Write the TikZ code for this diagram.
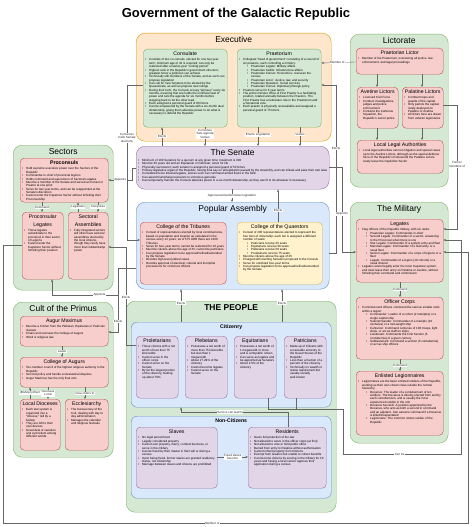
\documentclass[tikz,border=0pt]{standalone}
\usepackage{fontspec}
\setmainfont{Liberation Sans}
\usetikzlibrary{arrows.meta,calc}
\definecolor{grF}{HTML}{D5E8D4}\definecolor{grD}{HTML}{82B366}
\definecolor{orF}{HTML}{FFE6CC}\definecolor{orD}{HTML}{D79B00}
\definecolor{puF}{HTML}{E1D5E7}\definecolor{puD}{HTML}{9673A6}
\definecolor{blF}{HTML}{DAE8FC}\definecolor{blD}{HTML}{6C8EBF}
\definecolor{rdF}{HTML}{F8CECC}\definecolor{rdD}{HTML}{B85450}
\definecolor{ylF}{HTML}{FFF2CC}\definecolor{ylD}{HTML}{D6B656}
% text helpers for the boxes
\newcommand\bodysz{\fontsize{3}{3.35}\selectfont}
\newcommand\itm[1]{\par\hangindent=4pt\hangafter=1\noindent\hbox to 4pt{\textbullet\hfil}#1}
\newcommand\subitm[1]{\par\hangindent=12pt\hangafter=1\noindent\hspace*{8pt}\hbox to 4pt{\textbullet\hfil}#1}
\newcommand\ttl[1]{\hbox to\hsize{\hss\fontsize{5.2}{6}\selectfont\strut #1\hss}\vspace{0.6pt}}
\newcommand\ttlbig[1]{\hbox to\hsize{\hss\fontsize{8.5}{10}\selectfont\strut #1\hss}}
\newcommand\pnl[3]{\parbox[t][\dimexpr#2pt-4pt\relax][t]{\dimexpr#1pt-4pt\relax}{\raggedright\bodysz #3}}

\begin{document}
\begin{tikzpicture}[x=1pt, y=-1pt, >={Stealth[length=2.6pt,width=2.2pt]},
  bx/.style={draw, line width=0.4pt, rounded corners=4pt, inner sep=2pt, anchor=north west},
  grp/.style={bx, rounded corners=9pt},
  fgreen/.style={fill=grF, draw=grD},
  forange/.style={fill=orF, draw=orD},
  fpurple/.style={fill=puF, draw=puD},
  fblue/.style={fill=blF, draw=blD},
  fred/.style={fill=rdF, draw=rdD},
  fyellow/.style={fill=ylF, draw=ylD},
  arr/.style={->, draw=black!60, line width=0.35pt},
  ln/.style={draw=black!60, line width=0.35pt},
  lbl/.style={font=\fontsize{3}{3.5}\selectfont, fill=white, inner sep=0.5pt, align=center, text=black!85}]
\path[fill=white, use as bounding box] (0,0) rectangle (474,527);
\node[font=\bfseries\fontsize{13}{15}\selectfont] (title) at (236,14) {Government of the Galactic Republic};

% groups
\node[grp, forange] (exec) at (136,33) {\pnl{195}{108}{\ttlbig{Executive}}};
\node[grp, fgreen] (lictor) at (350,34) {\pnl{98}{153}{\ttlbig{Lictorate}}};
\node[grp, fgreen] (sectors) at (13,145) {\pnl{100}{145}{\ttlbig{Sectors}}};
\node[grp, fblue] (popasm) at (136,202) {\pnl{193}{87}{\ttlbig{Popular Assembly}}};
\node[grp, fgreen] (milit) at (350,202) {\pnl{98}{241}{\ttlbig{The Military}}};
\node[grp, fgreen] (cult) at (13,302) {\pnl{100}{155}{\ttlbig{Cult of the Primus}}};
\node[grp, fgreen] (people) at (126,301) {\pnl{210}{211}{\ttlbig{\bfseries THE PEOPLE}}};
\node[bx, fblue, rounded corners=6pt] (citz) at (131,322) {\pnl{200}{85}{\ttl{\bfseries Citizenry}}};
\node[bx, fblue, rounded corners=6pt] (noncit) at (131,416) {\pnl{200}{82}{\ttl{\bfseries Non-Citizens}}};

% executive
\node[bx, fgreen] (conslt) at (143,49) {\pnl{84}{78}{\ttl{Consulate}
  \itm{Consists of two co-consuls, elected for one two-year term; minimum age of 42 is required; can only be reelected after a twelve-year ``cooling period''}
  \itm{Highest rank in the Republic's government structure; greatest honor a politician can achieve}
  \itm{Technically still members of the Senate, and as such can propose legislation}
  \itm{Can call for new Senators to be elected by the Quaestorate, as well as propose new rulings}
  \itm{During their term, the Consuls occupy ``primacy'' every six months, meaning that one holds the unofficial seat of power and sets the agenda for six months before stepping back to let the other lead}
  \itm{Each assigned a personal guard of 80 lictors}
  \itm{Can be empowered by the Senate with a six-month dual dictatorship, giving them absolute power to do what is necessary to defend the Republic}}};
\node[bx, fgreen] (praet) at (237,49) {\pnl{84}{78}{\ttl{Praetorium}
  \itm{Collegiate ``head of government'' consisting of a council of six praetors, each controlling a ministry:}
  \subitm{Praetorian Legate: Military affairs}
  \subitm{Praetorian Aedile: Infrastructure affairs}
  \subitm{Praetorian Censor: Economics; oversees the census}
  \subitm{Praetorian Lictor: Justice, law, and security}
  \subitm{Praetorian Quaestor: Social services}
  \subitm{Praetorian Consul: Diplomacy/foreign policy}
  \itm{Praetors serve for 6 year terms}
  \itm{The prime minister office of First Praetor is a facilitating position, rotated annually between the Praetors. The First Praetor has a tiebreaker role in the Praetorium and a Senatorial vote.}
  \itm{Each praetor is physically unassailable and assigned a personal guard of 75 lictors}}};

% senate
\node[grp, fpurple] (senate) at (136,146) {\pnl{193}{43}{\ttlbig{The Senate}
  \itm{Minimum of 100 Senators for a quorum at any given time; maximum is 300}
  \itm{Must be 30 years old and an Equitarian or Patrician; serve for life}
  \itm{Physically sacrosanct; each senator is assigned a personal guard of 50 lictors}
  \itm{Primary legislative organ of the Republic, having final say on all legislation passed by the Assembly, and can initiate and pass their own laws}
  \itm{Considered to be tribunal legates, and as such can command armed fleets in the field}
  \itm{Can award triumphal processions to victorious generals}
  \itm{Can temporarily transfer the Consuls absolute power in a six-month dictatorship, as they see fit to do whatever is necessary}}};

% popular assembly
\node[bx, fred] (tribs) at (140,222) {\pnl{86}{62}{\ttl{College of the Tribunes}
  \itm{Consist of representatives elected by local constituencies, based on population and location as calculated in the census every 12 years; as of 575 ARR there are 1200 Tribunes}
  \itm{Serve for four-year terms; cannot be reelected for 10 years}
  \itm{Must be citizens above the age of 25; cannot be patricians}
  \itm{Can propose legislation to be approved/refined/amended by the Senate}
  \itm{Decides high-level judicial cases}
  \itm{Decides approval of electoral, cultural and triumphal processions for victorious officers}}};
\node[bx, fyellow] (quaest) at (237,222) {\pnl{85}{62}{\ttl{College of the Quaestors}
  \itm{Consist of 200 representatives elected to represent the four tiers of citizenship; each tier is assigned a different number of seats:}
  \subitm{Patricians receive 25 seats}
  \subitm{Equitarians receive 50 seats}
  \subitm{Plebeians receive 50 seats}
  \subitm{Proletarians receive 75 seats}
  \itm{Must be citizens above the age of 25}
  \itm{Charged with electing Senators proposed to the Consuls}
  \itm{Serve for unlimited four-year terms}
  \itm{Can propose legislation to be approved/refined/amended by the Senate}}};

% the people
\node[bx, fpurple] (prole) at (136,336) {\pnl{42}{62}{\ttl{Proletarians}
  \itm{Those citizens with a net worth of less than 75 kilocredits}
  \itm{Cannot serve in the officer corps}
  \itm{Cannot serve on the Senate}
  \itm{By far the largest portion of the citizenry, making up about 70\%}}};
\node[bx, fpurple] (pleb) at (185,336) {\pnl{42}{62}{\ttl{Plebeians}
  \itm{Possesses a net worth of more than 75 kilocredits but less than 1 megacredit}
  \itm{About 27.29\% of the citizenry}
  \itm{Cannot become legates}
  \itm{Cannot serve on the Senate}}};
\node[bx, fpurple] (equit) at (234,336) {\pnl{42}{62}{\ttl{Equitarians}
  \itm{Possesses a net worth of 1 megacredit or more and is a Republic citizen}
  \itm{Can serve as legates and be appointed as Senators}
  \itm{About 2.5\% of the citizenry}}};
\node[bx, fpurple] (patric) at (284,336) {\pnl{42}{62}{\ttl{Patricians}
  \itm{Made up of Citizens with a traceable ancestry to the Great Houses of the Republic}
  \itm{Less than a fraction of a percent of the citizenry}
  \itm{Technically no wealth or status requirement but usually socially well-known}}};
\node[bx, fpurple] (slaves) at (136,427) {\pnl{81}{61}{\ttl{Slaves}
  \itm{No legal personhood}
  \itm{Legally considered property}
  \itm{Cannot own property, marry, conduct business, or serve in the military}
  \itm{Can be freed by their master in their will or during a census}
  \itm{Upon being freed, former slaves are granted residency status, not citizenship}
  \itm{Marriage between slaves and citizens are prohibited}}};
\node[bx, fpurple] (resid) at (248,427) {\pnl{78}{61}{\ttl{Residents}
  \itm{Given full protection of the law}
  \itm{Not allowed to serve in the officer corps (at first)}
  \itm{Not allowed to vote or hold public office}
  \itm{Barred from entry to Palatine without authorization}
  \itm{Cannot inherit property from Citizens}
  \itm{Exempt from taxation but unable to collect benefits}
  \itm{Can become citizens by serving in the military for 10 years and having a local censor approve their application during a census}}};

% sectors
\node[bx, fred] (procons) at (20,158) {\pnl{88}{44}{\ttl{\bfseries Proconsuls}
  \itm{Hold supreme executive power over the Sectors of the Republic}
  \itm{Commander-in-chief of provincial legions}
  \itm{Holds command and supervision of Sectoral Legates}
  \itm{Must be a member of the Senate and served as Consul or Praetor at one point}
  \itm{Serve for two year terms, and can be reappointed at the Senate's discretion}
  \itm{Cannot enter the Capstone Sector without forfeiting their Proconsulship}}};
\node[bx, fred] (plegates) at (22,212) {\pnl{41}{67}{\ttl{Proconsular}\ttl{Legates}
  \itm{Those legates subordinate to the proconsul in their sector of Legions}
  \itm{Cannot enter the Capstone Sector without forfeiting their position}}};
\node[bx, fred] (sassem) at (68,212) {\pnl{40}{67}{\ttl{Sectoral}\ttl{Assemblies}
  \itm{Fully integrated sectors will often have sectoral assemblies elected by the local citizens, though they rarely have more than rubberstamp power}}};

% cult
\node[bx, fred] (augmax) at (20,316) {\pnl{88}{30}{\ttl{Augur Maximus}
  \itm{Must be a Citizen from the Plebeian, Equitarian or Patrician classes}
  \itm{Chairs and oversees the College of Augurs}
  \itm{Word is religious law}}};
\node[bx, fred] (caugur) at (20,357) {\pnl{88}{30}{\ttl{College of Augurs}
  \itm{Ten-member council of the highest religious authority in the Republic}
  \itm{Set Cult policy and handle ecclesiastical disputes}
  \itm{Augur Maximus has the only final veto}}};
\node[bx, fred] (dioc) at (20,399) {\pnl{40}{51}{\ttl{Local Dioceses}
  \itm{Each star system is organized into a ``diocese,'' led by a bishop}
  \itm{They are left to their own devices}
  \itm{Great deal of variation and syncretism among different worlds}}};
\node[bx, fred] (eccl) at (65,399) {\pnl{43}{51}{\ttl{Ecclesiarchy}
  \itm{The bureaucracy of the Cult, dealing with day to day administration}
  \itm{Manages the calendar and religious festivals}}};

% lictorate
\node[bx, fred] (plictor) at (356,48) {\pnl{87}{26}{\ttl{Praetorian Lictor}
  \itm{Member of the Praetorium, overseeing all justice, law enforcement, and legal proceedings}}};
\node[bx, fred] (avet) at (357,87) {\pnl{41}{41}{\ttl{Avetine Lictors}
  \itm{Licensed Civil Force}
  \itm{Conduct investigations, judges and police enforcement}
  \itm{Contains the Cerberus Squadron, the Republic's secret police}}};
\node[bx, fred] (palat) at (402,87) {\pnl{41}{41}{\ttl{Palatine Lictors}
  \itm{Combat troops and guards of the capital}
  \itm{Only patrols the capital; rarely deployed on Palatine or Avetine}
  \itm{All lictors here are drawn from veteran legionaries}}};
\node[bx, fred] (lla) at (357,140) {\pnl{86}{33}{\ttl{Local Legal Authorities}
  \itm{Local legal authorities can turn litigation and special cases up to the Avetine Lictors, although as the special defense force of the Republic's homeworld the Palatine Lictors rarely leave the Capitoline Sector}}};

% military
\node[bx, fred] (legates) at (356,219) {\pnl{87}{63}{\ttl{Legates}
  \itm{Flag officers of the Republic military, with six ranks:}
  \subitm{Praetorian Legate: Commander-in-chief}
  \subitm{Second Legate: Commander of a sector, answering to the Proconsul when there is one}
  \subitm{Star Legate: Commander of a system army and fleet}
  \subitm{Marshal Legate: Commander of a field army or a naval fleet}
  \subitm{Senior Legate: Commander of a corps of legions or a fleet}
  \subitm{Legate: Commander of a legion (10 cohorts) or a naval division}
  \itm{Legates cannot legally enter the inner Capstone system, and must leave their army on Palatine or Avetine, without forfeiting their command and commission}}};
\node[bx, fred] (officers) at (356,297) {\pnl{87}{62}{\ttl{Officer Corps}
  \itm{Commissioned officers command the various smaller units within a legion:}
  \subitm{Commander: Leader of a cohort (2 maniples) or a single capital ship}
  \subitm{Subcommander: Commander of a maniple (10 centuries) or a mid-weight ship}
  \subitm{Centurion: Command centuries of 100 troops, light ships, or act as staff on ships}
  \subitm{Lieutenant: Commands the First Section (5 contubernia) of a given century}
  \subitm{Sublieutenant: Command a section (5 contubernia) or act as ship officers}}};
\node[bx, fred] (enlisted) at (356,371) {\pnl{87}{64}{\ttl{Enlisted Legionnaires}
  \itm{Legionnaires are the basic enlisted soldiers of the Republic, working as their own citizen class outside the normal hierarchy:}
  \subitm{Decanus: The leader of a contubernium of ten soldiers. The Decanus is directly elected from and by each contubernium, and is usually the most experienced soldier in the unit}
  \subitm{Decanus Secundi: A position appointed by the Decanus, who acts as both a second in command and an adjutant. Can assume command if a Decanus is killed/incapacitated}
  \subitm{Legionnaire: The common citizen soldier of the Republic}}};

% executive <-> senate
\draw[arr] ($(senate.north west)+(26,0)$) -- node[lbl] (t1) {Elects} ($(conslt.south west)+(19,0)$);
\draw[arr] ($(conslt.south west)+(62,0)$) -- node[lbl, pos=.35] (t2) {Convenes\\Sets agenda\\Vetoes} ($(senate.north west)+(69,0)$);
\draw[arr] ($(praet.south west)+(21,0)$) -- node[lbl, pos=.4] (t3) {Enacts Legislation} ($(senate.north west)+(122,0)$);
\draw[arr] ($(praet.south west)+(63,0)$) -- node[lbl, pos=.4] (t4) {Vetoes} ($(senate.north west)+(164,0)$);
\draw[arr] ($(conslt.north west)+(0,36)$) -- (127,85) -- node[lbl, pos=.34] (t5) {Convenes\\Calls Senate\\elections} (127,240) -- ($(tribs.north west)+(0,18)$);
\draw[arr] ($(senate.north west)+(0,22)$) -- (132,168) -- (132,180) -- node[lbl] (t6) {Appoints} ($(procons.north east)+(0,22)$);

% senate <-> assembly
\draw[arr] ($(senate.south west)+(96,0)$) -- node[lbl] (t7) {Approves/amends/vetoes legislation} ($(popasm.north west)+(96,0)$);
\draw[arr] ($(quaest.north west)+(41,0)$) -- node[lbl, pos=.36] (t8) {Elects} ($(senate.south west)+(142,0)$);
\draw[arr] ($(citz.north west)+(50,0)$) -- node[lbl, pos=.58] (t9) {Elects} ($(popasm.south west)+(45,0)$);
\draw[arr] ($(citz.north west)+(151,0)$) -- node[lbl, pos=.58] (t10) {Elects} ($(popasm.south west)+(146,0)$);
\draw[arr] ($(popasm.north east)+(0,51)$) -- (336,253) -- node[lbl, pos=.62] (t11) {Elects} (336,85) -- ($(praet.north east)+(0,36)$);
\draw[arr] ($(senate.north east)+(0,21)$) -- (342,167) -- node[lbl, pos=.55] (t12) {Appoints} (342,252) -- ($(legates.north west)+(0,33)$);

% lictorate
\draw[arr] ($(plictor.north west)+(0,14)$) -- node[lbl, pos=.54] (t13) {Member of} ($(praet.north east)+(0,14)$);
\draw[arr] ($(plictor.south west)+(21,0)$) -- ($(avet.north west)+(20,0)$);
\draw[arr] ($(plictor.south west)+(66,0)$) -- ($(palat.north west)+(20,0)$);
\draw[arr] ($(avet.south west)+(20,0)$) -- ($(lla.north west)+(20,0)$);
\draw[arr] ($(palat.south west)+(20,0)$) -- ($(lla.north west)+(65,0)$);
\draw[arr] ($(palat.north east)+(0,18)$) -- (457,105) -- node[lbl, pos=.48] (t14) {Former\\members of} (457,229) -- ($(legates.north east)+(0,10)$);

% military
\draw[arr] ($(legates.south west)+(44,0)$) -- node[lbl] (t15) {Command} ($(officers.north west)+(44,0)$);
\draw[arr] ($(officers.south west)+(44,0)$) -- node[lbl] (t16) {Command} ($(enlisted.north west)+(44,0)$);
\coordinate (canbe) at (343,409);
\draw[ln] ($(patric.south west)+(12,0)$) |- (canbe);
\draw[arr] ($(equit.south west)+(34,0)$) |- (canbe) -- (343,454) -- node[lbl, pos=.48] (t17) {Can be} (461,454) -- (461,240) -- ($(legates.north east)+(0,21)$);
\draw[arr] ($(plegates.north west)+(0,33)$) -- (3,245) -- (3,523) -- node[lbl, pos=.45] (t18) {Member of} (468,523) -- (468,252) -- ($(legates.north east)+(0,33)$);

% people
\draw[arr] ($(resid.north west)+(40,0)$) -- (288,412) -- node[lbl, pos=.54] (t19) {Service can lead to} (181,412) -- ($(citz.south west)+(50,0)$);
\draw[arr] ($(slaves.north east)+(0,30)$) -- node[lbl] (t20) {Freed slaves\\become} ($(resid.north west)+(0,30)$);

% sectors
\draw[arr] ($(procons.south west)+(22,0)$) -- node[lbl] (t21) {Command} ($(plegates.north west)+(20,0)$);
\draw[arr] ($(sassem.north west)+(10,0)$) -- node[lbl] (t22) {Legislates} ($(procons.south west)+(58,0)$);
\draw[arr] ($(procons.south west)+(78,0)$) -- node[lbl] (t23) {Comprises} ($(sassem.north west)+(30,0)$);
\draw[arr] ($(prole.north west)+(0,9)$) -- (126,345) -- node[lbl, pos=.49] (t24) {Elects} (126,247) -- ($(sassem.north east)+(0,35)$);
\draw[arr] ($(popasm.north west)+(0,66)$) -- (118,268) -- node[lbl, pos=.83] (t25) {Elects} (118,332) -- ($(augmax.north east)+(0,16)$);
\draw[arr] ($(popasm.north west)+(0,66)$) -- (118,268) -- (118,295) -- node[lbl, pos=.28] (t26) {Appoints} (52,295) -- ($(plegates.south west)+(30,0)$);

% cult
\draw[arr] ($(augmax.south west)+(42,0)$) -- node[lbl] (t27) {Leads} ($(caugur.north west)+(42,0)$);
\draw[arr] ($(dioc.north west)+(10,0)$) -- node[lbl] (t28) {(Bishops) Elect} ($(caugur.south west)+(10,0)$);
\draw[arr] ($(caugur.south west)+(28,0)$) -- node[lbl] (t29) {Oversees\\Local} ($(dioc.north west)+(28,0)$);
\draw[arr] ($(caugur.south west)+(65,0)$) -- node[lbl] (t30) {Give orders to} ($(eccl.north west)+(20,0)$);
\end{tikzpicture}
\end{document}
